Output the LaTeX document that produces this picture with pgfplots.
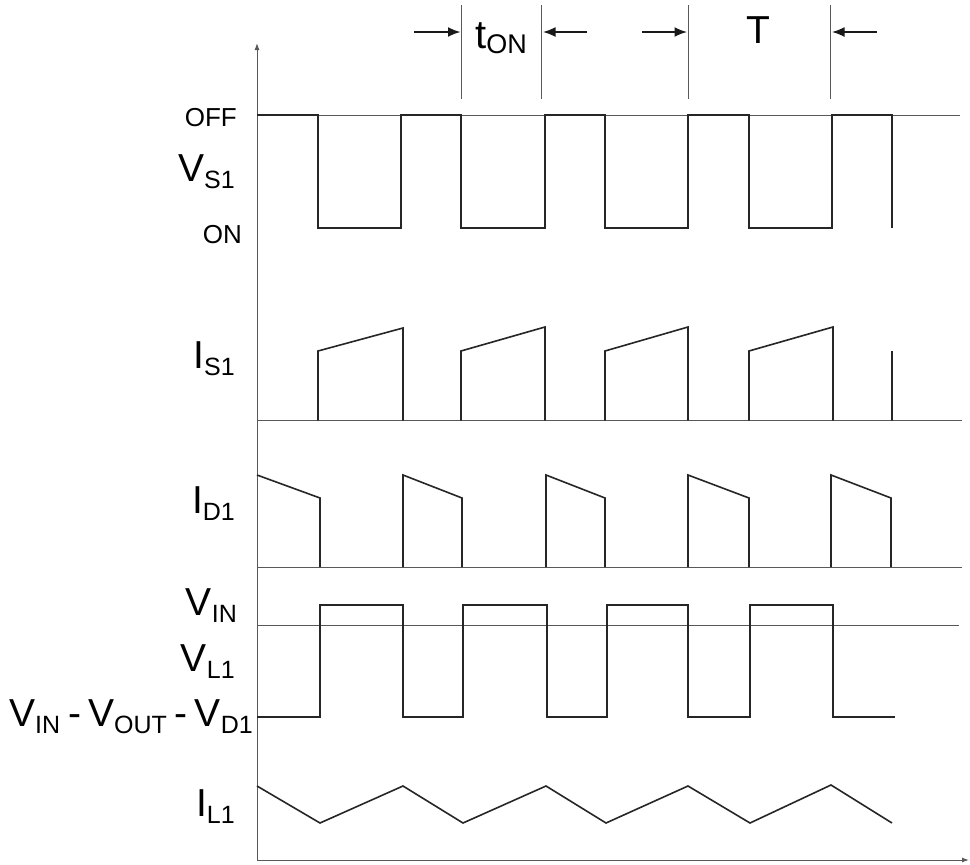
\documentclass[border=0pt]{standalone}
\usepackage{pgfplots}
\pgfplotsset{compat=1.18}
\usepackage{fontspec}
\setmainfont{Liberation Sans}
\usetikzlibrary{arrows.meta}
\newcommand{\sig}[2]{{\fontsize{39}{40}\selectfont #1}\raisebox{-7pt}{\fontsize{25}{26}\selectfont #2}}
\newcommand{\dash}{\hspace{8pt}{\fontsize{39}{40}\selectfont -}\hspace{7pt}}
\begin{document}
\begin{tikzpicture}
\begin{axis}[
  scale only axis, width=970pt, height=865pt,
  xmin=0, xmax=970, ymin=0, ymax=865, y dir=reverse,
  hide axis, clip=false, unbounded coords=jump,
  wave/.style={line width=1.6pt, color=black!85},
  ref/.style={line width=1pt, color=black!65},
  dim/.style={line width=2.8pt, color=black!90, -{Latex[length=13pt,width=10pt]}},
]
% axes
\addplot[ref, -{Latex[length=7pt,width=5pt]}] coordinates {(257,860) (257,43)};
\addplot[ref, -{Latex[length=7pt,width=5pt]}] coordinates {(257,860) (969,860)};
% reference lines
\addplot[ref] coordinates {(257,115) (960,115)};
\addplot[ref] coordinates {(257,420.7) (962,420.7)};
\addplot[ref] coordinates {(257,567) (962,567)};
\addplot[ref] coordinates {(257,625) (959,625)};
% top dimension lines
\addplot[ref] coordinates {(461.7,5) (461.7,99) (nan,nan) (541.7,5) (541.7,99) (nan,nan) (688.3,5) (688.3,99) (nan,nan) (830.7,5) (830.7,99)};
\addplot[dim] coordinates {(414,32) (461,32)};
\addplot[dim] coordinates {(587,32) (542.5,32)};
\addplot[dim] coordinates {(642,32) (687.5,32)};
\addplot[dim] coordinates {(877,32) (831.5,32)};
% V_S1
\addplot[wave] coordinates {(257,115)(318,115)(318,228)(401,228)(401,115)(461,115)(461,228)(545,228)(545,115)(605,115)(605,228)(688,228)(688,115)(749,115)(749,228)(832,228)(832,115)(892,115)(892,228)};
% I_S1
\addplot[wave] coordinates {(318,420.7)(318,351)(403,328)(403,420.7) (nan,nan)
 (461,420.7)(461,351)(545,327)(545,420.7) (nan,nan)
 (605,420.7)(605,351)(688,327)(688,420.7) (nan,nan)
 (749,420.7)(749,351)(833,327)(833,420.7) (nan,nan)
 (892,420.7)(892,351)};
% I_D1
\addplot[wave] coordinates {(257,475)(320,498)(320,567) (nan,nan)
 (403,567)(403,475)(462,498)(462,567) (nan,nan)
 (546,567)(546,475)(605,498)(605,567) (nan,nan)
 (688,567)(688,475)(749,498)(749,567) (nan,nan)
 (831,567)(831,475)(891,498)(891,567)};
% V_L1
\addplot[wave] coordinates {(257,717)(320,717)(320,605)(403,605)(403,717)(463,717)(463,605)(547,605)(547,717)(607,717)(607,605)(688,605)(688,717)(750,717)(750,605)(833,605)(833,717)(895,717)};
% I_L1
\addplot[wave] coordinates {(257,786)(320,823)(403,786)(463,823)(546,786)(606,823)(688,786)(750,823)(831,785)(892,823)};
% labels
\node[anchor=base east, inner sep=0pt, font=\fontsize{26}{27}\selectfont] at (axis cs:237,126) {OFF};
\node[anchor=base east, inner sep=0pt] at (axis cs:235,181.7) {\sig{V}{S1}};
\node[anchor=base east, inner sep=0pt, font=\fontsize{26}{27}\selectfont] at (axis cs:242,243.3) {ON};
\node[anchor=base east, inner sep=0pt] at (axis cs:235,368.3) {\sig{I}{S1}};
\node[anchor=base east, inner sep=0pt] at (axis cs:235,513.3) {\sig{I}{D1}};
\node[anchor=base east, inner sep=0pt] at (axis cs:237,615) {\sig{V}{IN}};
\node[anchor=base east, inner sep=0pt] at (axis cs:235,671.7) {\sig{V}{L1}};
\node[anchor=base east, inner sep=0pt] at (axis cs:253,726.7) {\sig{V}{IN}\dash\sig{V}{OUT}\dash\sig{V}{D1}};
\node[anchor=base east, inner sep=0pt] at (axis cs:235,816.7) {\sig{I}{L1}};
\node[anchor=base west, inner sep=0pt] at (axis cs:475,48) {{\fontsize{40}{41}\selectfont t}\raisebox{-5pt}{\fontsize{27}{28}\selectfont ON}};
\node[anchor=base west, inner sep=0pt, font=\fontsize{39}{40}\selectfont] at (axis cs:746.7,43.3) {T};
\end{axis}
\pgfresetboundingbox
\path (current axis.south west) rectangle (current axis.north east);
\end{tikzpicture}
\end{document}
